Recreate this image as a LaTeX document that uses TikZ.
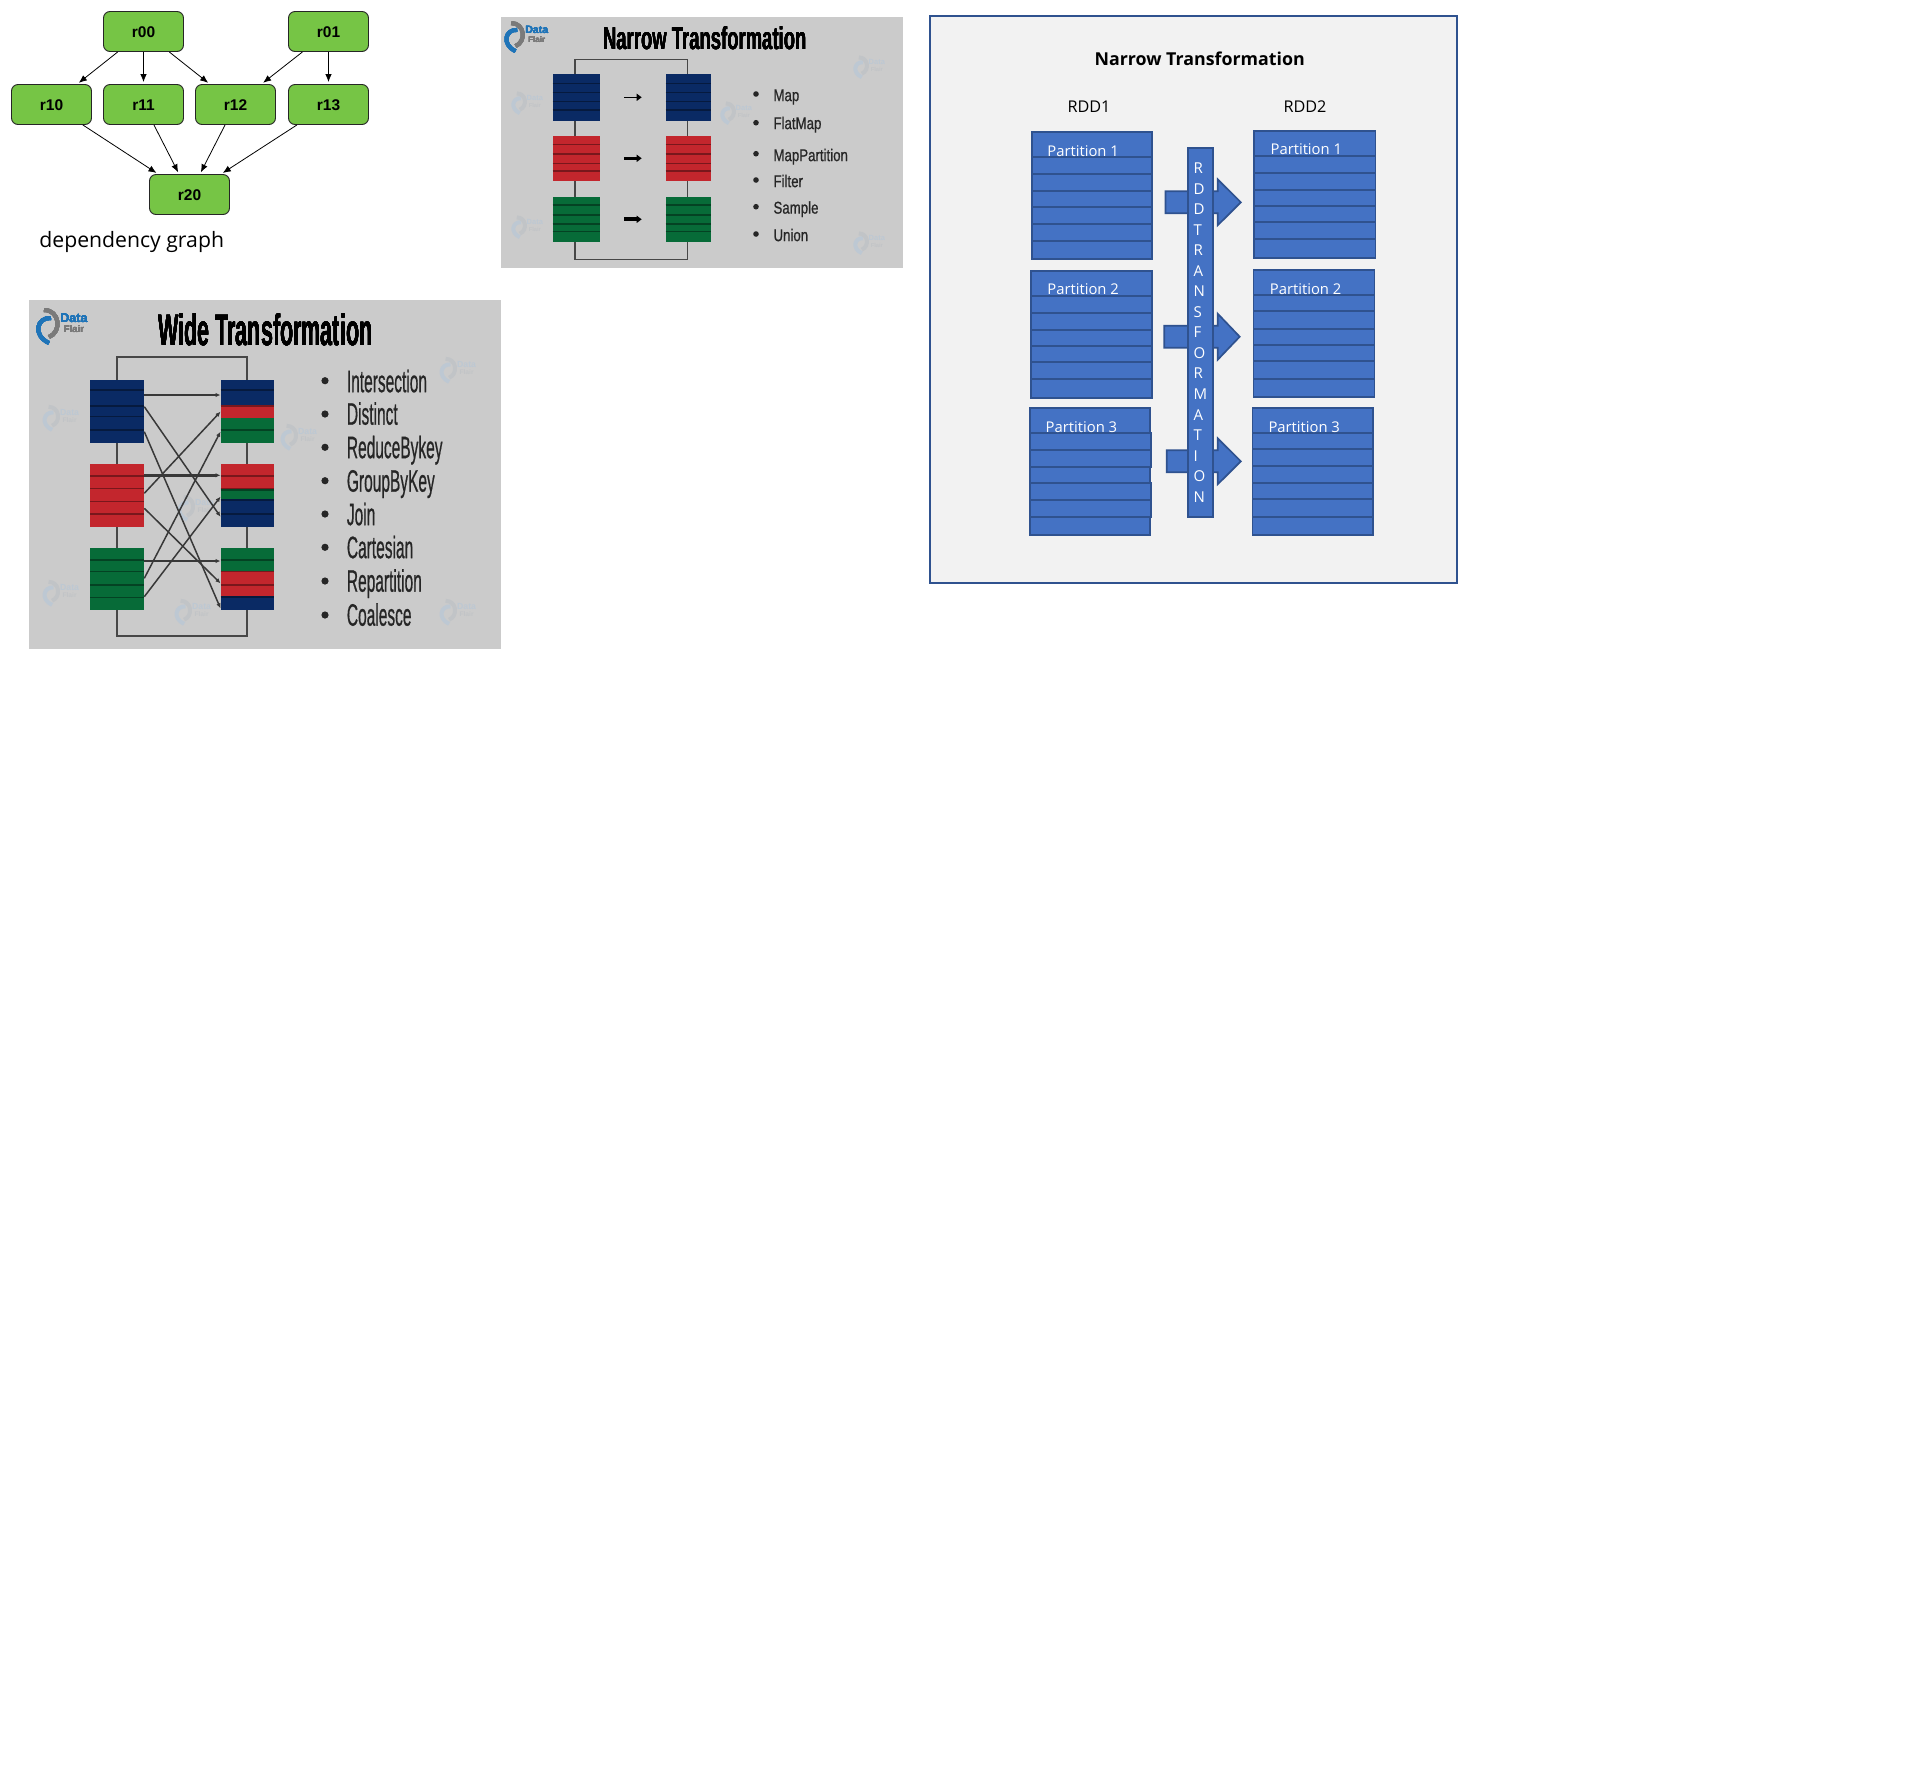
\documentclass[tikz,border=0pt]{standalone}
\usepackage{fontspec}
\usepackage{graphicx}
\usepackage{tikz}
\usetikzlibrary{arrows.meta,positioning}
\setmainfont{Liberation Sans}
\newfontfamily\uifont{Open Sans}
\definecolor{GraphGreen}{HTML}{76C545}
\definecolor{SlideGray}{HTML}{CBCBCB}
\definecolor{SlideNavy}{HTML}{0A2A64}
\definecolor{SlideRed}{HTML}{C3262D}
\definecolor{SlideGreen}{HTML}{076B38}
\definecolor{PanelFill}{HTML}{F2F2F2}
\definecolor{OfficeBlue}{HTML}{4472C4}
\definecolor{OfficeEdge}{HTML}{2F528F}
\definecolor{LogoBlue}{HTML}{1F74B8}
\definecolor{LogoGray}{HTML}{7A7A7A}
\definecolor{MarkBlue}{HTML}{BDC8D3}
\definecolor{MarkGray}{HTML}{C1C4C7}
\tikzset{
  graphnode/.style={draw=black!85,fill=GraphGreen,rounded corners=6.5pt,line width=.9pt,
    minimum width=80pt,minimum height=40pt,inner sep=0pt,text height=12.6pt,text depth=0pt,
    font=\fontsize{15.5}{18}\selectfont\bfseries},
  graphedge/.style={-{Latex[length=8pt,width=6.5pt]},line width=.8pt,shorten >=2pt},
  stackbox/.style={fill=OfficeBlue,draw=OfficeEdge,line width=1.7pt},
  partlabel/.style={anchor=west,inner sep=0pt,text=white,font=\uifont\fontsize{14.8}{17}\selectfont},
  rddlabel/.style={inner sep=0pt,font=\uifont\fontsize{16.2}{19}\selectfont},
  slidebracket/.style={draw=black!72,line width=1.1pt},
  slideitem/.style={anchor=west,inner sep=0pt,text=black!85,text depth=0pt},
}
\newcommand{\rowbox}[6]{%
  \fill[#5] (#1,#3) rectangle (#2,#4);
  \foreach \ys in {#6} \draw[#5!62!black,line width=1.2pt] (#1,\ys) -- (#2,\ys);
}
\newcommand{\partstack}[5]{%
  \draw[stackbox] (#1,#3) rectangle (#2,#4);
  \foreach \ys in {#5} \draw[stackbox] (#1,\ys) -- (#2,\ys);
}
\newcommand{\flairlogo}[5]{%
  \begin{scope}[shift={(#1,#2)},scale=#3,every node/.style={transform shape,inner sep=0pt}]
    \draw[#4,line width=4pt] (5,-8) .. controls (-9,-9) and (-14,9) .. (3,17);
    \draw[#5,line width=4pt] (-2,-16) .. controls (14,-16) and (16,6) .. (3,11);
    \node[text=#4,font=\fontsize{12.5}{14}\selectfont\bfseries] at (28,-8) {Data};
    \node[text=#5,font=\fontsize{9.5}{11}\selectfont\bfseries] at (28,3.5) {Flair};
  \end{scope}%
}
\begin{document}
\begin{tikzpicture}[x=1pt,y=-1pt,>=Latex]
  \useasboundingbox (0,0) rectangle (1913,1789);
  \fill[white] (0,0) rectangle (1913,1789);

  \node[graphnode] (r00) at (143.5,31.5) {r00};
  \node[graphnode] (r01) at (328.5,31.5) {r01};
  \node[graphnode] (r10) at (51.5,104.5) {r10};
  \node[graphnode] (r11) at (143.5,104.5) {r11};
  \node[graphnode] (r12) at (235.5,104.5) {r12};
  \node[graphnode] (r13) at (328.5,104.5) {r13};
  \node[graphnode] (r20) at (189.5,194.5) {r20};
  \foreach \src/\tgt in {r00/r10,r00/r11,r00/r12,r01/r12,r01/r13,r10/r20,r11/r20,r12/r20,r13/r20}
    \draw[graphedge] (\src) -- (\tgt);
  \node[inner sep=0pt,font=\uifont\fontsize{21.2}{25}\selectfont] (deplabel) at (131.7,242) {dependency graph};

  \fill[SlideGray] (501,17) rectangle (903,268);
  \foreach \mx/\my in {860/67,518/103,727/113,518/227,860/243}
    \flairlogo{\mx}{\my}{.6}{MarkBlue}{MarkGray}
  \flairlogo{513}{36.7}{.85}{LogoBlue}{LogoGray}
  \node[inner sep=0pt,font=\fontsize{31.6}{36}\selectfont\bfseries] (narrowtitle) at (704.7,38.3)
    {\scalebox{.585}[1]{Narrow Transformation}};
  \draw[slidebracket] (575,59.3) rectangle (687.3,259.3);
  \foreach \xa/\xb in {552.7/600,665.7/711}{
    \rowbox{\xa}{\xb}{74}{120.7}{SlideNavy}{83.3,92.3,101.7,110}
    \rowbox{\xa}{\xb}{135.7}{181}{SlideRed}{144.3,154,163.3,171}
    \rowbox{\xa}{\xb}{197}{241.7}{SlideGreen}{205,215,224,231.7}
  }
  \foreach \i/\y/\lw in {1/97.3/1.5,2/158.3/2.8,3/219.3/3.8}{
    \coordinate (nin\i) at (624.3,\y);
    \coordinate (nout\i) at (641.7,\y);
    \draw[-{Triangle[length=5pt,width=7pt]},line width=\lw pt] (nin\i) -- (nout\i);
  }
  \foreach \itm/\yb/\yt [count=\i] in {Map/94/95,FlatMap/122.7/123,MapPartition/153.7/155,Filter/180/181,Sample/206.7/207.5,Union/234/235}{
    \fill[black!85] (756,\yb) circle (2.8);
    \node[slideitem,text height=12.2pt,font=\fontsize{17}{20}\selectfont\addfontfeature{FakeBold=.8}] (nitem\i) at (773.3,\yt) {\scalebox{.78}[1]{\itm}};
  }

  \fill[SlideGray] (29,300) rectangle (501,649);
  \foreach \mx/\my in {50/418,288/437,447/370,50/593,182/612,447/612,185/508}
    \flairlogo{\mx}{\my}{.7}{MarkBlue}{MarkGray}
  \flairlogo{46}{326}{1}{LogoBlue}{LogoGray}
  \node[inner sep=0pt,font=\fontsize{44}{50}\selectfont\bfseries] (widetitle) at (265.3,329.3)
    {\scalebox{.49}[1]{Wide Transformation}};
  \draw[slidebracket,line width=1.6pt] (116.7,356.7) rectangle (246.7,635.7);
  \rowbox{90.3}{144.3}{380}{442.7}{SlideNavy}{390,406,416.7,430}
  \rowbox{90.3}{144.3}{464}{526.7}{SlideRed}{476,488.3,501.7,514}
  \rowbox{90.3}{144.3}{548}{610}{SlideGreen}{560,571.7,585,597.7}
  \rowbox{220.7}{274}{380}{406}{SlideNavy}{390}
  \rowbox{220.7}{274}{406}{417.7}{SlideRed}{406}
  \rowbox{220.7}{274}{417.7}{442.7}{SlideGreen}{430}
  \rowbox{220.7}{274}{464}{490}{SlideRed}{476,488.3}
  \rowbox{220.7}{274}{490}{500}{SlideGreen}{490}
  \rowbox{220.7}{274}{500}{526.7}{SlideNavy}{500,514}
  \rowbox{220.7}{274}{548}{571.7}{SlideGreen}{560}
  \rowbox{220.7}{274}{571.7}{597}{SlideRed}{571.7,585}
  \rowbox{220.7}{274}{597}{610}{SlideNavy}{597}
  \foreach \i/\ya/\yb/\lw in {1/395/395/2,2/475.3/475.3/3,3/561/561/2,4/406.7/516.7/1.5,5/431.7/608.3/1.5,6/493.3/411.7/1.5,7/508.3/583.3/1.5,8/578.3/431.7/1.5,9/596.7/496.7/1.5}{
    \coordinate (wout\i) at (144.3,\ya);
    \coordinate (win\i) at (220.5,\yb);
    \draw[-{Latex[length=5pt,width=4.5pt]},draw=black!78,line width=\lw pt] (wout\i) -- (win\i);
  }
  \foreach \itm/\yb/\yt [count=\i] in {Intersection/380.7/381,Distinct/414/413.5,ReduceBykey/447.3/447,GroupByKey/480.7/480.5,Join/514/514,Cartesian/547.3/547,Repartition/581/580.5,Coalesce/615/614.5}{
    \fill[black!85] (325,\yb) circle (3.6);
    \node[slideitem,text height=22.3pt,font=\fontsize{31}{36}\selectfont\addfontfeature{FakeBold=.8}] (witem\i) at (346.7,\yt) {\scalebox{.5}[1]{\itm}};
  }

  \draw[fill=PanelFill,draw=OfficeEdge,line width=1.9pt] (929.8,15.7) rectangle (1457.4,583);
  \node[inner sep=0pt,font=\uifont\fontsize{17.8}{21}\selectfont\bfseries] (paneltitle) at (1199.7,58.6) {Narrow Transformation};
  \node[rddlabel] (rdd1) at (1089,106.5) {RDD1};
  \node[rddlabel] (rdd2) at (1305,107) {RDD2};
  \partstack{1031.7}{1152.3}{131.7}{259.3}{157,174,191,207,224,241}
  \partstack{1253.9}{1375.4}{130.7}{258.3}{156,172.7,189.7,206,222.3,239}
  \partstack{1030.7}{1152.3}{270.7}{398.3}{295.7,312.7,329.7,345.7,362,379}
  \partstack{1253.5}{1374.4}{269.7}{397.3}{295,310.7,328.7,344.7,361,378.7}
  \partstack{1029.7}{1150.2}{407.7}{535.3}{432.7,450,467.3,482.7,500,516.7}
  \partstack{1252.5}{1373.3}{407.7}{535.3}{432.7,449,465.7,482.7,499,516.7}
  \foreach \ya/\yb/\xb in {432.7/450/1151.2,450/467.3/1151.2,482.7/500/1151.2,500/516.7/1151.2}
    \draw[stackbox] (1029.7,\ya) rectangle (\xb,\yb);
  \node[partlabel] (p11) at (1047.2,151) {Partition 1};
  \node[partlabel] (p21) at (1270.4,148.7) {Partition 1};
  \node[partlabel] (p12) at (1047.2,288.7) {Partition 2};
  \node[partlabel] (p22) at (1269.7,288.7) {Partition 2};
  \node[partlabel] (p13) at (1045.5,426.7) {Partition 3};
  \node[partlabel] (p23) at (1268.3,426.7) {Partition 3};
  \foreach \xt/\xh/\yc in {1165.4/1240.8/202.3,1164.3/1239.7/336.7,1166.7/1240.8/461.3}
    \draw[stackbox] (\xt,\yc-11) -- (1217.7,\yc-11) -- (1217.7,\yc-23) -- (\xh,\yc)
      -- (1217.7,\yc+23) -- (1217.7,\yc+11) -- (\xt,\yc+11) -- cycle;
  \node[stackbox,text=white,align=left,inner sep=0pt,minimum width=25.5pt,minimum height=368.4pt,
    font=\uifont\fontsize{15}{20.55}\selectfont] (transcol) at (1200.5,332.5)
    {R\\D\\D\\T\\R\\A\\N\\S\\F\\O\\R\\M\\A\\T\\I\\O\\N};
\end{tikzpicture}
\end{document}
